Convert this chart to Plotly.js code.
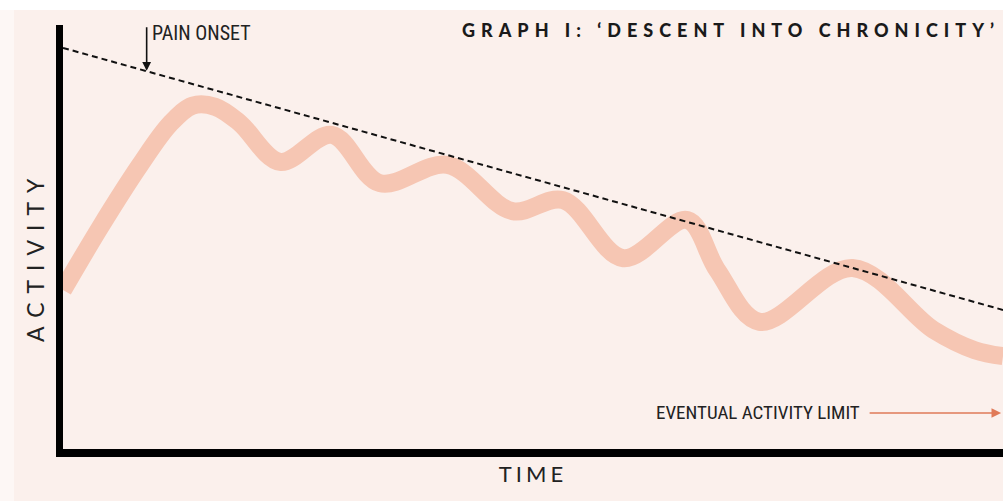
<!DOCTYPE html>
<html>
<head>
<meta charset="utf-8">
<script src="https://cdn.plot.ly/plotly-3.0.1.min.js"></script>
<style>
  html, body { margin: 0; padding: 0; background: #ffffff; }
  #chart { width: 1003px; height: 501px; }
</style>
</head>
<body>
<div id="chart"></div>
<script>
// Time (arbitrary units 0-100) and activity (arbitrary units 0-100)
const activityTime  = [0, 3.9, 8.2, 11.4, 13.8, 16.2, 18.8, 23.1, 28.6, 33.7, 40.9, 47.8, 53.2, 59.6, 66.4, 69.6, 74.1, 84.0, 92.6, 97.0, 100];
const activityLevel = [37.5, 52.1, 67.0, 76.7, 81.0, 80.7, 76.9, 67.7, 74.1, 62.7, 67.0, 56.1, 58.7, 45.0, 54.0, 42.2, 30.0, 42.7, 28.1, 23.3, 21.9];

// Dashed trend line (declining capacity)
const trendTime  = [0, 100];
const trendLevel = [94.6, 32.8];

// Annotation points
const painOnsetTime  = 8.9;
const painOnsetLevel = 89.2;
const limitLevel     = 8.5;

const titleText  = "GRAPH I: \u2018DESCENT INTO CHRONICITY\u2019";
const xLabel     = "TIME";
const yLabel     = "ACTIVITY";
const painLabel  = "PAIN ONSET";
const limitLabel = "EVENTUAL ACTIVITY LIMIT";

const bg = "#fbf0ec";
const narrow = "'Liberation Sans Narrow', 'Arial Narrow', 'Roboto Condensed', Lato, sans-serif";

const traces = [
  {
    x: activityTime, y: activityLevel, type: "scatter", mode: "lines",
    line: { color: "#f6c6b3", width: 18, shape: "spline", smoothing: 1.0 },
    hoverinfo: "skip", showlegend: false
  },
  {
    x: trendTime, y: trendLevel, type: "scatter", mode: "lines",
    line: { color: "#111111", width: 2, dash: "6px,4px" },
    hoverinfo: "skip", showlegend: false
  }
];

const layout = {
  width: 1003, height: 501,
  margin: { l: 63, r: 0, t: 25, b: 52, pad: 0 },
  paper_bgcolor: bg, plot_bgcolor: bg,
  showlegend: false,
  title: {
    text: titleText,
    x: 462 / 1003, xanchor: "left", xref: "container",
    y: 1 - 31 / 501, yanchor: "middle", yref: "container",
    font: { family: "Lato, 'Open Sans', sans-serif", size: 18, color: "#1a1a1a", weight: 900 }
  },
  xaxis: {
    range: [0, 100], showgrid: false, zeroline: false, showticklabels: false, ticks: "",
    showline: true, linecolor: "#000000", linewidth: 8, fixedrange: true,
    title: { text: xLabel, standoff: 14, font: { family: "Lato, sans-serif", size: 22, color: "#222222" } }
  },
  yaxis: {
    range: [0, 100], showgrid: false, zeroline: false, showticklabels: false, ticks: "",
    showline: true, linecolor: "#000000", linewidth: 7, fixedrange: true
  },
  shapes: [
    { type: "rect", xref: "paper", yref: "paper", x0: -0.2, x1: 1.2, y0: (449 - 10) / 424, y1: 1.2,
      fillcolor: "#ffffff", line: { width: 0 }, layer: "below" },
    { type: "rect", xref: "paper", yref: "paper", x0: -0.2, x1: (14 - 63) / 940, y0: -0.2, y1: (449 - 10) / 424,
      fillcolor: "#fdf7f5", line: { width: 0 }, layer: "below" }
  ],
  annotations: [
    { // y axis label
      text: yLabel, xref: "paper", yref: "paper",
      x: (35 - 63) / 940, y: (449 - 256) / 424, xanchor: "center", yanchor: "middle",
      textangle: -90, showarrow: false,
      font: { family: "Lato, sans-serif", size: 23, color: "#222222" }
    },
    { // pain onset arrow
      x: painOnsetTime, y: painOnsetLevel, xref: "x", yref: "y",
      text: "", showarrow: true, ax: 0, ay: -45, axref: "pixel", ayref: "pixel",
      arrowhead: 2, arrowsize: 1.1, arrowwidth: 1.6, arrowcolor: "#111111", standoff: 0
    },
    { // pain onset label
      text: painLabel, x: painOnsetTime + 0.35, y: 98.0, xref: "x", yref: "y",
      xanchor: "left", yanchor: "middle", showarrow: false,
      font: { family: narrow, size: 20, color: "#222222" }
    },
    { // activity limit arrow
      x: 99.8, y: limitLevel, xref: "x", yref: "y",
      text: "", showarrow: true, ax: -133, ay: 0,
      arrowhead: 2, arrowsize: 1.2, arrowwidth: 1.6, arrowcolor: "#e07a58", standoff: 0
    },
    { // activity limit label
      text: limitLabel, x: 85.0, y: limitLevel, xref: "x", yref: "y",
      xanchor: "right", yanchor: "middle", showarrow: false,
      font: { family: narrow, size: 19, color: "#222222" }
    }
  ]
};

Plotly.newPlot("chart", traces, layout, { staticPlot: true, displayModeBar: false }).then(function (gd) {
  const spacing = [
    [titleText, "6px"],
    [xLabel, "4px"],
    [yLabel, "9px"]
  ];
  gd.querySelectorAll("text").forEach(function (t) {
    spacing.forEach(function (s) {
      if (t.textContent === s[0]) t.style.letterSpacing = s[1];
    });
  });
});
</script>
</body>
</html>
